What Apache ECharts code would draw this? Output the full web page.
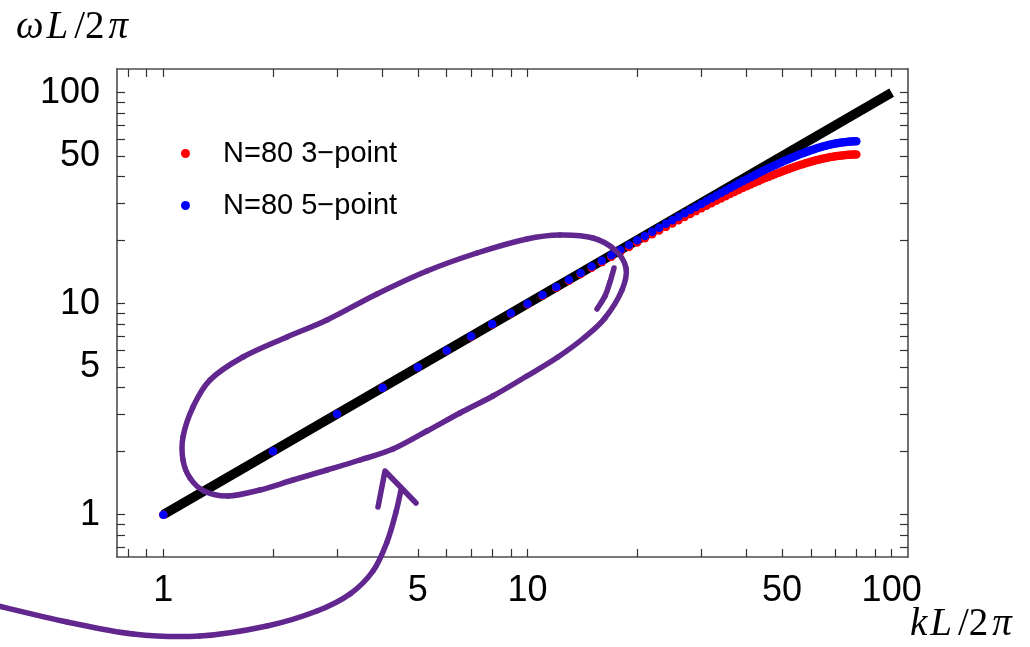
<!DOCTYPE html>
<html>
<head>
<meta charset="utf-8">
<script src="https://cdn.jsdelivr.net/npm/echarts@6/dist/echarts.min.js"></script>
<style>
  html, body { margin: 0; padding: 0; background: #fff; }
  #chart { width: 1030px; height: 647px; }
</style>
</head>
<body>
<div id="chart"></div>
<script>
// Wavenumber index kL/2π for the N=80 lattice
const kValues = [
  1, 2, 3, 4, 5, 6, 7, 8, 9, 10, 11, 12, 13, 14, 15, 16, 17, 18, 19, 20,
  21, 22, 23, 24, 25, 26, 27, 28, 29, 30, 31, 32, 33, 34, 35, 36, 37, 38, 39, 40,
  41, 42, 43, 44, 45, 46, 47, 48, 49, 50, 51, 52, 53, 54, 55, 56, 57, 58, 59, 60,
  61, 62, 63, 64, 65, 66, 67, 68, 69, 70, 71, 72, 73, 74, 75, 76, 77, 78, 79, 80
];

// ωL/2π, 3-point stencil
const omega3pt = [
  1.000, 2.000, 2.998, 3.996, 4.992, 5.986, 6.978, 7.967, 8.953, 9.936,
  10.915, 11.889, 12.859, 13.824, 14.784, 15.738, 16.686, 17.628, 18.562, 19.490,
  20.410, 21.322, 22.226, 23.122, 24.008, 24.885, 25.753, 26.611, 27.458, 28.295,
  29.121, 29.936, 30.739, 31.530, 32.309, 33.076, 33.830, 34.571, 35.299, 36.013,
  36.713, 37.399, 38.071, 38.727, 39.369, 39.996, 40.607, 41.203, 41.783, 42.346,
  42.894, 43.425, 43.939, 44.436, 44.916, 45.379, 45.824, 46.252, 46.661, 47.053,
  47.427, 47.782, 48.119, 48.437, 48.737, 49.018, 49.280, 49.523, 49.747, 49.951,
  50.137, 50.303, 50.450, 50.577, 50.685, 50.773, 50.842, 50.891, 50.920, 50.930
];

// ωL/2π, 5-point stencil
const omega5pt = [
  1.000, 2.000, 3.000, 4.000, 5.000, 6.000, 7.000, 8.000, 8.999, 9.999,
  10.998, 11.997, 12.995, 13.993, 14.990, 15.987, 16.982, 17.976, 18.969, 19.960,
  20.949, 21.936, 22.921, 23.903, 24.881, 25.857, 26.828, 27.795, 28.758, 29.715,
  30.667, 31.613, 32.552, 33.484, 34.408, 35.325, 36.233, 37.131, 38.020, 38.898,
  39.766, 40.621, 41.465, 42.295, 43.112, 43.915, 44.704, 45.476, 46.233, 46.973,
  47.697, 48.401, 49.088, 49.756, 50.404, 51.031, 51.638, 52.224, 52.787, 53.328,
  53.847, 54.342, 54.812, 55.259, 55.681, 56.077, 56.448, 56.793, 57.112, 57.404,
  57.669, 57.907, 58.117, 58.300, 58.455, 58.583, 58.682, 58.753, 58.795, 58.809
];

// Continuum dispersion ω = k
const continuumLine = [[1, 1], [100, 100]];

const seriesNames = ['N=80 3\u2212point', 'N=80 5\u2212point'];

const xRange = [0.746, 110.9];
const yRange = [0.630, 129.5];
const xTickValues = [0.8, 0.9, 1, 2, 3, 4, 5, 6, 7, 8, 9, 10, 20, 30, 40, 50, 60, 70, 80, 90, 100];
const yTickValues = [0.7, 0.8, 0.9, 1, 2, 3, 4, 5, 6, 7, 8, 9, 10, 20, 30, 40, 50, 60, 70, 80, 90, 100];
const xLabelValues = [1, 5, 10, 50, 100];
const yLabelValues = [1, 5, 10, 50, 100];

// Freehand pen annotation (screen pixels)
const loopStroke = [
  [183, 437], [193, 407], [210, 380], [243, 357], [287, 337], [327, 320],
  [377, 294], [427, 271], [477, 253], [527, 239], [560, 235], [593, 238],
  [615, 250], [626, 268], [622, 290], [605, 318], [585, 337], [558, 357],
  [527, 376], [493, 396], [460, 413], [427, 431], [393, 449], [360, 460],
  [327, 470], [293, 480], [260, 490], [228, 496], [204, 491], [190, 478],
  [183, 460]
];
const hookStroke = [[614, 268], [610, 282], [605, 296], [597, 309]];
const arrowStroke = [
  [-6, 605], [67, 622], [133, 634], [200, 636], [267, 626], [317, 611],
  [350, 594], [373, 571], [387, 542], [396, 512], [401, 490]
];
const arrowHead = [[378, 507], [385, 471], [416, 503]];

const chart = echarts.init(document.getElementById('chart'), null, { renderer: 'canvas' });

function frameAxis(position, range, ticks, labels, showLabels, margin) {
  return {
    type: 'log',
    logBase: 10,
    position: position,
    min: range[0],
    max: range[1],
    axisLine: { show: true, onZero: false, lineStyle: { color: '#4d4d4d', width: 1.6 } },
    axisTick: { show: true, inside: true, length: 8, customValues: ticks,
      lineStyle: { color: '#333', width: 1.2 } },
    axisLabel: { show: showLabels, customValues: labels, margin: margin,
      fontFamily: 'Liberation Sans', fontSize: 36, color: '#000',
      formatter: function (v) { return String(Math.round(v)); } },
    minorTick: { show: false },
    splitLine: { show: false }
  };
}

const penStyle = { stroke: '#62278f', lineWidth: 5.5, fill: null, lineCap: 'round', lineJoin: 'round' };

// Catmull-Rom spline through pen points, emitted as bezier segments
function penCurve(pts, closed) {
  const n = pts.length;
  const out = [];
  const get = function (i) {
    if (closed) return pts[(i + n) % n];
    return pts[Math.max(0, Math.min(n - 1, i))];
  };
  const segs = closed ? n : n - 1;
  for (let i = 0; i < segs; i++) {
    const p0 = get(i - 1), p1 = get(i), p2 = get(i + 1), p3 = get(i + 2);
    out.push({
      type: 'bezierCurve', z: 60, silent: true,
      shape: {
        x1: p1[0], y1: p1[1], x2: p2[0], y2: p2[1],
        cpx1: p1[0] + (p2[0] - p0[0]) / 6, cpy1: p1[1] + (p2[1] - p0[1]) / 6,
        cpx2: p2[0] - (p3[0] - p1[0]) / 6, cpy2: p2[1] - (p3[1] - p1[1]) / 6
      },
      style: penStyle
    });
  }
  return out;
}

const mathRich = {
  i: { fontFamily: 'Liberation Serif', fontStyle: 'italic', fontSize: 39, fill: '#000', padding: [0, 3, 0, 0] },
  u: { fontFamily: 'Liberation Serif', fontSize: 39, fill: '#000', padding: [0, 4, 0, 3] }
};

chart.setOption({
  animation: false,
  backgroundColor: '#fff',
  grid: { left: 117, top: 69, width: 791, height: 488, containLabel: false },
  xAxis: [
    frameAxis('bottom', xRange, xTickValues, xLabelValues, true, 16),
    frameAxis('top', xRange, xTickValues, xLabelValues, false, 8)
  ],
  yAxis: [
    frameAxis('left', yRange, yTickValues, yLabelValues, true, 17),
    frameAxis('right', yRange, yTickValues, yLabelValues, false, 8)
  ],
  legend: {
    orient: 'vertical',
    left: 181,
    top: 139,
    padding: 0,
    itemWidth: 9,
    itemHeight: 9,
    itemGap: 23,
    icon: 'circle',
    data: seriesNames,
    textStyle: { fontFamily: 'Liberation Sans', fontSize: 29, lineHeight: 28, color: '#000',
      padding: [0, 0, 0, 28] }
  },
  series: [
    {
      type: 'line',
      name: 'continuum',
      xAxisIndex: 0, yAxisIndex: 0,
      data: continuumLine,
      symbol: 'none',
      lineStyle: { color: '#000', width: 9.5, cap: 'butt' },
      z: 2
    },
    {
      type: 'scatter',
      name: seriesNames[0],
      xAxisIndex: 0, yAxisIndex: 0,
      data: kValues.map(function (k, i) { return [k, omega3pt[i]]; }),
      symbol: 'circle',
      symbolSize: 8.5,
      itemStyle: { color: '#ff0000', opacity: 1 },
      z: 3
    },
    {
      type: 'scatter',
      name: seriesNames[1],
      xAxisIndex: 0, yAxisIndex: 0,
      data: kValues.map(function (k, i) { return [k, omega5pt[i]]; }),
      symbol: 'circle',
      symbolSize: 8.5,
      itemStyle: { color: '#0000ff', opacity: 1 },
      z: 4
    }
  ],
  graphic: [
    {
      type: 'text', left: 16, top: 8, z: 50,
      style: { text: '{i|ω}{i|L}{u|/2}{i|π}', rich: mathRich }
    },
    {
      type: 'text', left: 910, top: 605, z: 50,
      style: { text: '{i|k}{i|L}{u|/2}{i|π}', rich: mathRich }
    }
  ].concat(
    penCurve(loopStroke, true),
    penCurve(hookStroke, false),
    penCurve(arrowStroke, false),
    [{ type: 'polyline', z: 60, silent: true, shape: { points: arrowHead }, style: penStyle }]
  )
});
</script>
</body>
</html>
